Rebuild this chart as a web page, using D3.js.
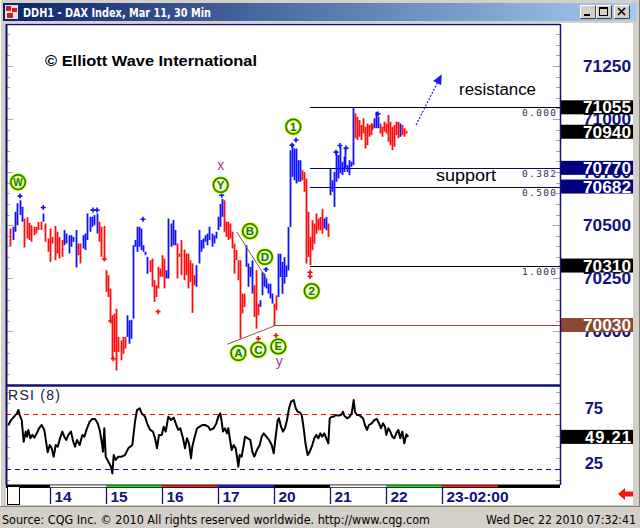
<!DOCTYPE html>
<html><head><meta charset="utf-8">
<script src="https://cdn.jsdelivr.net/npm/d3@7"></script>
<style>html,body{margin:0;padding:0;background:#d4d0c8;overflow:hidden}svg{display:block}</style>
</head><body><svg id="c" width="640" height="528"></svg>
<script>
// ---------------- DATA ----------------
const titleText = "DDH1 - DAX Index, Mar 11, 30 Min";
const copyrightText = "\u00A9 Elliott Wave International";
const sourceText = "Source: CQG Inc. \u00A9 2010 All rights reserved worldwide. http://www.cqg.com";
const stampText = "Wed Dec 22 2010 07:32:41";

// trading days (ordinal 1 = Dec 14 ... 8 = Dec 23)
const dayLabels = ["14","15","16","17","20","21","22","23-02:00"];
const dayOrdinals = [1,2,3,4,5,6,7,8];
const dayStartBar = [17,41,68,94,122,150,179,207];
const stripColors = ["#000000","#ffffff","#22dd22","#ee2222","#2222ee","#000000","#ffffff","#22dd22","#ee2222","#000000"];

// 30-min bars: highs, lows, direction (u = up / blue, d = down / red)
const barHigh = [
70485,70493,70563,70603,70618,70587,70532,70537,70511,70500,
70493,70493,70515,70516,70555,70508,70437,70485,70445,70496,
70469,70445,70430,70477,70461,70453,70453,70445,70477,70414,
70414,70453,70461,70555,70540,70540,70548,70555,70516,70493,
70496,70288,70265,70202,70076,70084,70107,69974,69958,69974,
69974,70076,70052,70055,70406,70430,70493,70493,70485,70406,
70375,70351,70335,70343,70241,70217,70304,70296,70359,70343,
70288,70532,70508,70524,70477,70414,70367,70430,70386,70367,
70367,70335,70320,70265,70312,70477,70430,70437,70453,70461,
70493,70461,70453,70469,70540,70600,70625,70618,70516,70516,
70508,70469,70414,70383,70335,70335,70178,70178,70406,70320,
70304,70335,70217,70288,70131,70147,70280,70272,70249,70225,
70225,70178,70131,70170,70366,70366,70327,70350,70311,70492,
70853,70885,70861,70861,70806,70806,70759,70751,70720,70563,
70445,70523,70508,70555,70531,70539,70578,70531,70539,70508,
70767,70712,70751,70846,70830,70869,70799,70822,70861,70783,
70806,70799,71055,71027,71011,70995,70972,71003,70964,70979,
70972,70979,70979,71003,71034,71011,70979,70964,70987,70979,
71019,70987,70964,70972,70987,70987,70979,70972,70956,70945];
const barLow = [
70401,70430,70469,70500,70548,70516,70395,70437,70430,70422,
70453,70461,70477,70477,70516,70422,70375,70327,70414,70335,
70367,70343,70351,70406,70414,70367,70398,70422,70301,70359,
70320,70390,70383,70430,70469,70493,70500,70461,70422,70351,
70335,70186,70162,70045,69872,69903,69816,69903,69864,69895,
69919,69974,69942,69966,70060,70398,70375,70398,70383,70375,
70359,70272,70280,70210,70139,70162,70202,70257,70257,70202,
70249,70249,70398,70406,70406,70249,70351,70265,70241,70265,
70202,70233,70087,70217,70210,70320,70375,70390,70422,70406,
70430,70398,70414,70437,70477,70493,70540,70469,70445,70430,
70437,70390,70272,70335,70241,69966,70084,70115,70304,70210,
70257,70178,70068,70013,70076,70115,70170,70210,70202,70178,
70155,70131,70029,70099,70162,70256,70177,70225,70256,70287,
70492,70728,70712,70696,70704,70704,70712,70657,70319,70350,
70312,70382,70413,70460,70476,70476,70460,70484,70476,70445,
70641,70657,70586,70704,70720,70744,70736,70751,70767,70751,
70736,70775,70783,70909,70901,70917,70901,70932,70861,70877,
70917,70924,70948,70956,70956,70956,70932,70917,70940,70932,
70893,70877,70854,70869,70924,70909,70917,70924,70917,70930];
const barDir = ("d"+"uuuuu"+"dddddddd"+"u"+"dddddddd"+"uuuuuu"+"dd"+"uuuuuuu"+"ddddddddddddd"+
  "uuuuuuuuuuu"+"dddddddd"+"uuuuu"+"ddddddddd"+"uuuuuuuuuuuuu"+"ddddddddddd"+"uuuu"+"ddd"+
  "uuuuuuu"+"dd"+"uuuuuuuuuuuu"+"ddddddddddd"+"uu"+"d"+"uuuuuuuuuuuuu"+"dddddddddd"+"uuu"+
  "dddddddddd"+"u"+"ddd").split("");

// swing markers (time in trading-day units, price)
const swingHighT = [0.464,0.880,1.768,1.839,2.661,4.066,4.857,5.321,5.393,6.107,6.179,6.286,6.857];
const swingHighP = [70637,70583,70571,70571,70528,70641,70292,70877,70901,70844,70875,70863,71024];
const swingLowT = [1.970,2.084,2.130,2.929,4.720,5.036,5.643,5.643];
const swingLowP = [70341,70049,69871,70093,69966,69981,70278,70259];

// Elliott wave labels
const waveLabel = ["W","Y","B","D","A","C","E","1","2"];
const waveT = [0.429,4.048,4.571,4.839,4.363,4.720,5.077,5.345,5.673];
const waveP = [70703,70689,70472,70350,69898,69914,69929,70964,70190];
const degreeLabel = ["x","y"];
const degreeT = [4.048,5.095];
const degreeP = [70778,69855];

// trendlines [t1,p1,t2,p2]
const trendT1 = [4.334,4.161];
const trendP1 = [70468,69939];
const trendT2 = [4.869,5.000];
const trendP2 = [70248,70025];
// projection arrow
const arrowT = [7.536,7.995];
const arrowP = [70972,71211];

// horizontal levels
const levelPrice = [71055,70770,70682,70310,70030];
const levelFib = ["0.000","0.382","0.500","1.000",""];
const levelStartT = [5.643,5.643,5.643,5.643,4.982];
const levelColor = ["#000000","#000080","#000080","#000000","#8c4830"];
const lastPrice = 70940;
const priceTicks = [71250,71000,70750,70500,70250,70000];
const noteText = ["resistance","support"];
const noteT = [8.304,7.893];
const notePrice = [71113,70709];

// RSI(8)
const rsiT = [0.255,0.304,0.375,0.411,0.434,0.459,0.495,0.530,0.566,0.589,0.613,0.648,0.684,0.720,0.763,0.804,0.852,0.898,0.959,0.995,
1.030,1.066,1.102,1.138,1.179,1.220,1.255,1.291,1.327,1.375,1.416,1.446,1.482,1.530,1.577,1.613,1.661,1.709,1.755,1.804,1.852,1.893,1.923,1.946,1.970,1.995,
2.041,2.089,2.113,2.138,2.173,2.220,2.280,2.339,2.398,2.470,2.518,2.554,2.602,2.638,2.696,2.745,2.791,2.839,2.875,2.911,2.946,2.995,
3.030,3.066,3.113,3.161,3.209,3.255,3.291,3.327,3.375,3.411,3.446,3.482,3.518,3.541,3.577,3.625,3.673,3.720,3.768,3.827,3.863,3.923,3.970,
4.005,4.041,4.066,4.089,4.125,4.161,4.184,4.220,4.245,4.280,4.316,4.339,4.363,4.388,4.423,4.459,4.482,4.530,4.577,4.613,4.648,4.696,4.745,4.780,4.816,4.863,4.911,4.959,4.995,
5.030,5.066,5.089,5.125,5.161,5.196,5.232,5.268,5.304,5.352,5.388,5.423,5.459,5.495,5.530,5.566,5.602,5.638,5.684,5.720,5.755,5.791,5.827,5.863,5.898,5.934,5.970,5.995,
6.030,6.066,6.102,6.148,6.196,6.232,6.255,6.304,6.352,6.388,6.423,6.446,6.482,6.518,6.554,6.589,6.625,6.661,6.696,6.745,6.791,6.839,6.875,6.911,6.946,6.982,
7.005,7.041,7.077,7.113,7.148,7.184,7.220,7.255,7.291,7.327,7.363,7.398];
const rsiV = [60,64.5,68.5,70.6,73.6,69,64.5,44.8,54,49.4,55.5,47.9,51,48.5,52.4,57,60,55.5,35.2,41.8,
38.8,31.2,41.8,40.3,47.9,54,49.4,46.4,51,54,44.8,40.3,46.4,41.8,51,49.4,57,63,65.4,65.4,61.5,54,44.8,35.8,57,31.2,
26.7,22.1,16,32.7,28.2,31.2,31.2,32.7,38.8,41.8,63,73.6,75.2,70.6,67.6,60,55.5,54,47.9,38.8,51,51,
58.5,54,67.6,64.5,66.7,60,55.5,57,47.9,38.8,47.9,43.3,29.7,40.3,47.9,57,58.5,60,60,58.5,55.5,57,61.5,
67.6,70.6,63,54,57,52.4,57,44.8,37.3,41.8,38.8,31.2,22.1,32.7,31.2,41.8,49.4,47.9,46.4,35.8,31.2,37.3,41.8,49.4,52.4,49.4,46.4,41.8,34.2,
49.4,64.5,66.1,58.5,54,57,64.5,75.2,81.2,82.7,75.2,72.1,71.5,69.1,57,41.8,32.7,35.8,41.8,47.9,51,47.9,52.4,49.4,52.4,47.9,43.3,66.1,
67.6,67.6,69.1,68.5,69.1,72.1,68.5,66.1,67.6,70.6,82.7,72.1,69.1,69.1,67.6,66.1,60,55.5,60,61.5,64.5,65.4,61.5,57,61.5,58.5,
51,57,54,49.4,47.9,52.4,55.5,47.9,54,43.3,51.5,49.21];
const rsiBands = [70,20];
const rsiTicks = [75,25];
const rsiLast = 49.21;

// ---------------- LAYOUT / SCALES ----------------
const W = 640, H = 528;
const PL = 6, PR = 560, PT = 24.5, PB = 385, RT = 387, RB = 485;
const svg = d3.select("#c");
const xOrd = d3.scaleLinear().domain([1,8]).range([50,442]);
const barToOrd = d3.scaleLinear().domain(dayStartBar).range(dayOrdinals);
const xBar = i => xOrd(barToOrd(i));
const yP = d3.scaleLinear().domain([70000,71250]).range([331.4,65.9]);
const yR = d3.scaleLinear().domain([20,70]).range([469,414]);
const AX = "'Liberation Sans', Arial, sans-serif";
const NAVY = "#12127e";

// ---------------- WINDOW ----------------
svg.append("rect").attr("width",W).attr("height",H).attr("fill","#d4d0c8");
svg.append("line").attr("x1",0.5).attr("y1",0).attr("x2",0.5).attr("y2",H).attr("stroke","#ffffff");
svg.append("line").attr("x1",639.5).attr("y1",0).attr("x2",639.5).attr("y2",506).attr("stroke","#808080");
const defs = svg.append("defs");
const g = defs.append("linearGradient").attr("id","tb").attr("x1",0).attr("x2",1).attr("y1",0).attr("y2",0);
g.append("stop").attr("offset","0%").attr("stop-color","#0a246a");
g.append("stop").attr("offset","100%").attr("stop-color","#a6caf0");
svg.append("rect").attr("x",3).attr("y",3).attr("width",634).attr("height",18).attr("fill","url(#tb)");
// icon
svg.append("rect").attr("x",5).attr("y",5).attr("width",13).attr("height",14).attr("fill","#e8e0e0");
svg.append("rect").attr("x",6).attr("y",6).attr("width",5).attr("height",5).attr("fill","#cc2020");
svg.append("rect").attr("x",12).attr("y",8).attr("width",5).attr("height",4).attr("fill","#cc2020");
svg.append("rect").attr("x",7).attr("y",13).attr("width",6).attr("height",5).attr("fill","#cc2020");
svg.append("text").attr("x",23).attr("y",16.5).text(titleText)
  .attr("fill","#ffffff").attr("font-family","Tahoma, 'DejaVu Sans', sans-serif").attr("font-weight","bold")
  .attr("font-size",12).attr("textLength",188).attr("lengthAdjust","spacingAndGlyphs");
// buttons
[580,596,614].forEach((bx,k)=>{
  const b = svg.append("g");
  b.append("rect").attr("x",bx).attr("y",5).attr("width",16).attr("height",14).attr("fill","#d4d0c8");
  b.append("path").attr("d",`M${bx+0.5},${18.5}V${5.5}H${bx+15.5}`).attr("stroke","#ffffff").attr("fill","none");
  b.append("path").attr("d",`M${bx+0.5},${18.5}H${bx+15.5}V${5.5}`).attr("stroke","#404040").attr("fill","none");
  if(k===0) b.append("rect").attr("x",bx+4).attr("y",14).attr("width",6).attr("height",2).attr("fill","#000");
  if(k===1){ b.append("rect").attr("x",bx+3.5).attr("y",7.5).attr("width",8).attr("height",8).attr("fill","none").attr("stroke","#000");
    b.append("line").attr("x1",bx+3.5).attr("x2",bx+11.5).attr("y1",8.5).attr("y2",8.5).attr("stroke","#000");}
  if(k===2) b.append("path").attr("d",`M${bx+4},8L${bx+11},15M${bx+11},8L${bx+4},15`).attr("stroke","#000").attr("stroke-width",1.6);
});

// chart surface
svg.append("rect").attr("x",PL).attr("y",23).attr("width",633-PL).attr("height",505-23).attr("fill","#ffffff");

// ---------------- PRICE PANEL ----------------
const clip = defs.append("clipPath").attr("id","pc");
clip.append("rect").attr("x",PL).attr("y",PT).attr("width",PR-PL).attr("height",PB-PT);
const P = svg.append("g").attr("clip-path","url(#pc)");

// minor ticks
const tickVals = d3.range(69750,71451,50);
tickVals.forEach(v=>{
  const y = Math.round(yP(v))+0.5; if(y<PT+2||y>PB-2) return;
  const long = v%250===0;
  svg.append("line").attr("x1",PL+1).attr("x2",PL+(long?7:4)).attr("y1",y).attr("y2",y).attr("stroke","#a8a8a8");
  svg.append("line").attr("x1",PR-(long?7:4)).attr("x2",PR).attr("y1",y).attr("y2",y).attr("stroke","#a8a8a8");
});

// levels
levelPrice.forEach((p,i)=>{
  const y = Math.round(yP(p))+0.5;
  P.append("line").attr("x1",xOrd(levelStartT[i])).attr("x2",PR).attr("y1",y).attr("y2",y)
    .attr("stroke",levelColor[i]).attr("stroke-width",1.2);
  if(levelFib[i]) P.append("text").attr("x",556).attr("y",y+8).attr("text-anchor","end").text(levelFib[i])
    .attr("font-family","'DejaVu Sans Mono', monospace").attr("font-size",9.5).attr("fill","#303050")
    .attr("textLength",34).attr("lengthAdjust","spacing");
});

// bars
P.append("g").selectAll("line").data(barHigh).join("line")
  .attr("x1",(d,i)=>Math.round(xBar(i))+0.5).attr("x2",(d,i)=>Math.round(xBar(i))+0.5)
  .attr("y1",d=>yP(d)).attr("y2",(d,i)=>yP(barLow[i]))
  .attr("stroke",(d,i)=>barDir[i]==="u"?"#1010ff":"#ff0c0c").attr("stroke-width",1.8);

// swing markers
const cross = "M-2.5,0H2.5M0,-2.5V2.5";
swingHighT.forEach((t,i)=>P.append("path").attr("d",cross).attr("transform",`translate(${xOrd(t)},${yP(swingHighP[i])})`)
  .attr("stroke","#1010ff").attr("stroke-width",1.6));
swingLowT.forEach((t,i)=>P.append("path").attr("d",cross).attr("transform",`translate(${xOrd(t)},${yP(swingLowP[i])})`)
  .attr("stroke","#ff0c0c").attr("stroke-width",1.6));

// trendlines
trendT1.forEach((t,i)=>P.append("line").attr("x1",xOrd(t)).attr("y1",yP(trendP1[i]))
  .attr("x2",xOrd(trendT2[i])).attr("y2",yP(trendP2[i])).attr("stroke","#8c5a40").attr("stroke-width",1));

// arrow
{
  const x1=xOrd(arrowT[0]), y1=yP(arrowP[0]), x2=xOrd(arrowT[1]), y2=yP(arrowP[1]);
  const a = Math.atan2(y2-y1,x2-x1), L=10, Wd=4.5;
  const bx = x2-L*Math.cos(a), by = y2-L*Math.sin(a);
  P.append("line").attr("x1",x1).attr("y1",y1).attr("x2",bx).attr("y2",by)
    .attr("stroke","#1a1aee").attr("stroke-width",1.2).attr("stroke-dasharray","2,1.5");
  P.append("path").attr("d",`M${x2},${y2}L${bx+Wd*Math.sin(a)},${by-Wd*Math.cos(a)}L${bx-Wd*Math.sin(a)},${by+Wd*Math.cos(a)}Z`)
    .attr("fill","#1a1aee");
}

// wave circles
waveLabel.forEach((s,i)=>{
  const cx=xOrd(waveT[i]), cy=yP(waveP[i]);
  P.append("circle").attr("cx",cx).attr("cy",cy).attr("r",7.3).attr("fill","#ffffff").attr("stroke","#e6e600").attr("stroke-width",3.2);
  P.append("circle").attr("cx",cx).attr("cy",cy).attr("r",7.3).attr("fill","none").attr("stroke","#008a00").attr("stroke-width",1.5);
  P.append("text").attr("x",cx).attr("y",cy+4).attr("text-anchor","middle").text(s)
    .attr("font-family",AX).attr("font-weight","bold").attr("font-size",s==="W"?10:11.5)
    .attr("fill","#008a00").attr("stroke","#e6e600").attr("stroke-width",0.5).attr("paint-order","stroke");
});
degreeLabel.forEach((s,i)=>P.append("text").attr("x",xOrd(degreeT[i])).attr("y",yP(degreeP[i])+4)
  .attr("text-anchor","middle").text(s).attr("font-family",AX).attr("font-size",14).attr("fill","#9a3a9a"));

// notes
P.append("text").attr("x",xOrd(noteT[0])).attr("y",yP(notePrice[0])).text(noteText[0])
  .attr("font-family",AX).attr("font-size",16).attr("fill","#000").attr("textLength",77).attr("lengthAdjust","spacingAndGlyphs");
P.append("text").attr("x",xOrd(noteT[1])).attr("y",yP(notePrice[1])).text(noteText[1])
  .attr("font-family",AX).attr("font-size",16).attr("fill","#000").attr("textLength",60).attr("lengthAdjust","spacingAndGlyphs");

svg.append("text").attr("x",45).attr("y",65.5).text(copyrightText)
  .attr("font-family",AX).attr("font-weight","bold").attr("font-size",15).attr("fill","#000")
  .attr("textLength",212).attr("lengthAdjust","spacingAndGlyphs");

// price axis labels
priceTicks.forEach(v=>svg.append("text").attr("x",631).attr("y",yP(v)+6).attr("text-anchor","end").text(v)
  .attr("font-family",AX).attr("font-weight","bold").attr("font-size",16.5).attr("fill",NAVY)
  .attr("textLength",48).attr("lengthAdjust","spacingAndGlyphs"));
const boxes = levelPrice.map((p,i)=>({p,c:levelColor[i]==="#000000"?"#000":levelColor[i]})).concat([{p:lastPrice,c:"#000"}]);
boxes.forEach(b=>{
  const y=yP(b.p);
  svg.append("rect").attr("x",561).attr("y",y-7).attr("width",72).attr("height",14).attr("fill",b.c);
  svg.append("text").attr("x",631).attr("y",y+6).attr("text-anchor","end").text(b.p)
    .attr("font-family",AX).attr("font-weight","bold").attr("font-size",16.5).attr("fill","#fff")
    .attr("textLength",48).attr("lengthAdjust","spacingAndGlyphs");
});

// ---------------- RSI PANEL ----------------
d3.range(10,91,10).forEach(v=>{
  const y=Math.round(yR(v))+0.5; if(y<RT+2||y>RB-1) return;
  svg.append("line").attr("x1",PL+1).attr("x2",PL+4).attr("y1",y).attr("y2",y).attr("stroke","#a8a8a8");
  svg.append("line").attr("x1",PR-4).attr("x2",PR).attr("y1",y).attr("y2",y).attr("stroke","#a8a8a8");
});
rsiBands.forEach((v,i)=>svg.append("line").attr("x1",PL).attr("x2",PR).attr("y1",Math.round(yR(v))+0.5).attr("y2",Math.round(yR(v))+0.5)
  .attr("stroke",i===0?"#ff0000":"#0000ff").attr("stroke-dasharray","5,4"));
svg.append("path").datum(rsiT.map((t,i)=>[xOrd(t),yR(rsiV[i])]))
  .attr("d",d3.line()).attr("fill","none").attr("stroke","#000").attr("stroke-width",2).attr("stroke-linejoin","round");
svg.append("text").attr("x",8).attr("y",399.5).text("RSI (8)").attr("font-family",AX).attr("font-size",14)
  .attr("fill","#20203a").attr("textLength",52).attr("lengthAdjust","spacing");
rsiTicks.forEach(v=>svg.append("text").attr("x",603).attr("y",yR(v)+5.5).attr("text-anchor","end").text(v)
  .attr("font-family",AX).attr("font-weight","bold").attr("font-size",16.5).attr("fill",NAVY));
{
  const y=yR(rsiLast);
  svg.append("rect").attr("x",561).attr("y",y-7).attr("width",72).attr("height",14).attr("fill","#000");
  svg.append("text").attr("x",631).attr("y",y+6).attr("text-anchor","end").text(rsiLast.toFixed(2))
    .attr("font-family",AX).attr("font-weight","bold").attr("font-size",16.5).attr("fill","#fff")
    .attr("textLength",46).attr("lengthAdjust","spacing");
}

// ---------------- BORDERS ----------------
svg.append("line").attr("x1",PL).attr("x2",PR+0.5).attr("y1",24.5).attr("y2",24.5).attr("stroke","#101070").attr("stroke-width",1.5);
svg.append("line").attr("x1",PL+0.5).attr("x2",PL+0.5).attr("y1",24).attr("y2",RB).attr("stroke","#101070").attr("stroke-width",2);
svg.append("line").attr("x1",PR+0.5).attr("x2",PR+0.5).attr("y1",24).attr("y2",RB).attr("stroke","#101070").attr("stroke-width",1.5);
svg.append("line").attr("x1",PL).attr("x2",PR+1).attr("y1",385.5).attr("y2",385.5).attr("stroke","#101070").attr("stroke-width",2.5);

// ---------------- TIME AXIS ----------------
svg.append("rect").attr("x",PL).attr("y",484.5).attr("width",PR-PL).attr("height",3.5).attr("fill","#000");
stripColors.forEach((c,k)=>{
  const x0=Math.max(PL+1,xOrd(k)), x1=Math.min(PR-3,xOrd(k+1)); if(x1<=x0) return;
  svg.append("rect").attr("x",x0).attr("y",485.3).attr("width",x1-x0).attr("height",2).attr("fill",c);
});
dayOrdinals.forEach((o,i)=>{
  const x=Math.round(xOrd(o))+0.5;
  svg.append("line").attr("x1",x).attr("x2",x).attr("y1",487).attr("y2",504).attr("stroke",NAVY).attr("stroke-width",1.3);
  svg.append("text").attr("x",x+4).attr("y",502).text(dayLabels[i]).attr("font-family",AX).attr("font-weight","bold")
    .attr("font-size",15.5).attr("fill",NAVY);
});
svg.append("rect").attr("x",7.5).attr("y",486.5).attr("width",12).attr("height",18).attr("fill","#fff").attr("stroke","#000");
svg.append("path").attr("d","M618,494L625,488V491.5H633V496.5H625V500Z").attr("fill","#ff1010");

// ---------------- STATUS BAR ----------------
svg.append("rect").attr("x",0).attr("y",506).attr("width",W).attr("height",22).attr("fill","#d4d0c8");
svg.append("line").attr("x1",0).attr("x2",W).attr("y1",506.5).attr("y2",506.5).attr("stroke","#808080");
svg.append("text").attr("x",2).attr("y",524).text(sourceText).attr("font-family","'DejaVu Sans', sans-serif")
  .attr("font-size",12).attr("fill","#000").attr("textLength",428).attr("lengthAdjust","spacingAndGlyphs");
svg.append("text").attr("x",636).attr("y",524).attr("text-anchor","end").text(stampText).attr("font-family","'DejaVu Sans', sans-serif")
  .attr("font-size",12).attr("fill","#000").attr("textLength",150).attr("lengthAdjust","spacingAndGlyphs");
</script></body></html>
